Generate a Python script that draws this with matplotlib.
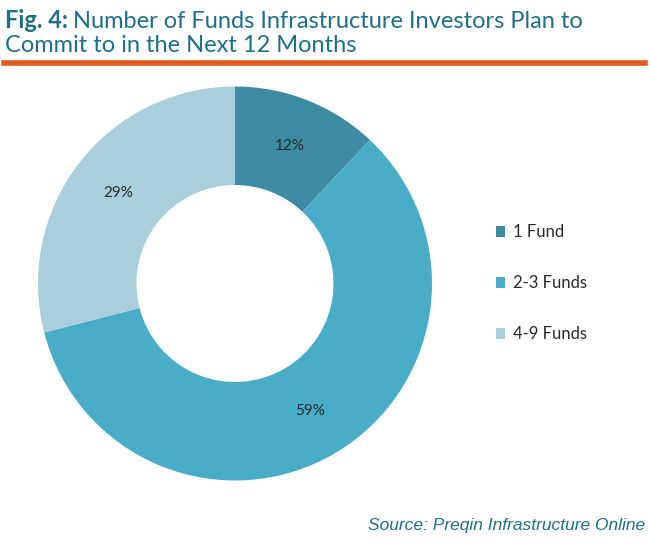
import matplotlib.pyplot as plt

labels = ["1 Fund", "2-3 Funds", "4-9 Funds"]
shares = [12, 59, 29]
colors = ["#3d8ba3", "#4aadc8", "#a9cfdc"]

title_color = "#1f6f88"
text_color = "#2a2a2a"

fig = plt.figure(figsize=(6.5, 5.45), dpi=100)
fig.patch.set_facecolor("white")

# title: bold "Fig. 4:" followed by regular text
fs = 17
t1 = fig.text(0.008, 0.949, "Fig. 4:", fontsize=fs, fontweight="bold", color=title_color,
              family="Lato", va="baseline")
renderer = fig.canvas.get_renderer()
bb = t1.get_window_extent(renderer)
x_after = (bb.x1 + 5) / fig.bbox.width
fig.text(x_after, 0.949, "Number of Funds Infrastructure Investors Plan to",
         fontsize=fs, color=title_color, family="Lato", va="baseline")
fig.text(0.008, 0.904, "Commit to in the Next 12 Months",
         fontsize=fs, color=title_color, family="Lato", va="baseline")
fig.add_artist(plt.Line2D([0.006, 0.993], [0.884, 0.884], color="#e05a1e", lw=4,
                          transform=fig.transFigure))

# donut
cx, cy, r = 235, 283.5, 197
ax = fig.add_axes([(cx - r) / 650, (545 - cy - r) / 545, 2 * r / 650, 2 * r / 545])
wedges, texts, autotexts = ax.pie(
    shares, colors=colors, startangle=90, counterclock=False,
    autopct=lambda p: f"{round(p)}%", pctdistance=0.75,
    wedgeprops=dict(width=0.5, edgecolor="white", linewidth=0),
    textprops=dict(fontsize=11, color=text_color, family="Lato"))
ax.set_xlim(-1, 1)
ax.set_ylim(-1, 1)
ax.set_aspect("equal")

leg = fig.legend(wedges, labels, loc="center left", bbox_to_anchor=(0.740, 0.48),
                 frameon=False, handlelength=0.55, handleheight=0.55, handletextpad=0.45,
                 labelspacing=2.1, prop=dict(family="Lato", size=12))
for t in leg.get_texts():
    t.set_color(text_color)

fig.text(0.992, 0.022, "Source: Preqin Infrastructure Online", ha="right", va="bottom",
         fontsize=12.5, style="italic", color=title_color, family="Liberation Sans")

fig.savefig("out.png", dpi=100)
